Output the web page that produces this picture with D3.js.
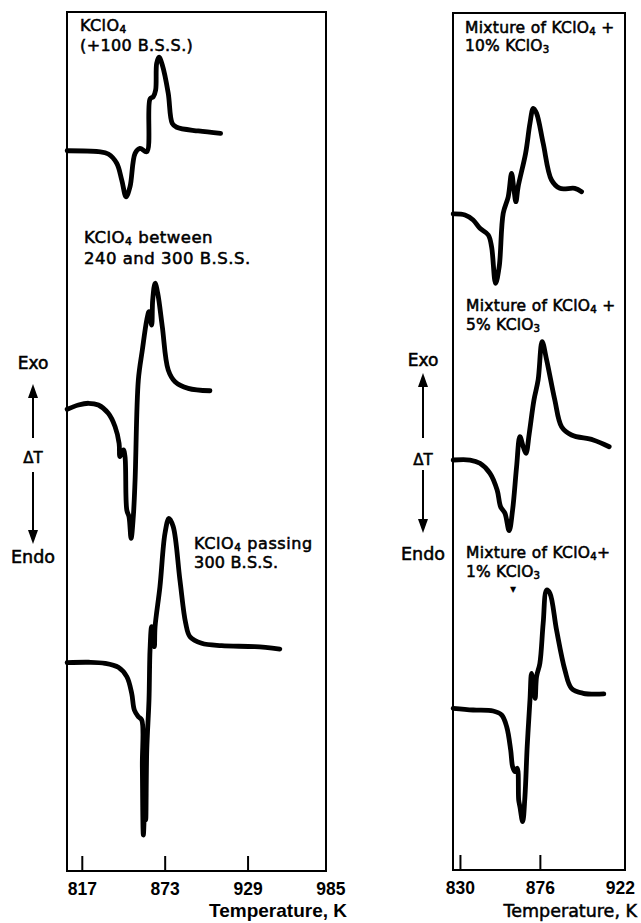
<!DOCTYPE html>
<html>
<head>
<meta charset="utf-8">
<script src="https://cdn.jsdelivr.net/npm/d3@7"></script>
<style>
  html, body { margin: 0; padding: 0; background: #fff; }
  svg { display: block; }
  text { fill: #000; }
</style>
</head>
<body>
<svg id="chart" width="641" height="923"></svg>
<script>
// ---------------- DATA ----------------
// Left panel: KClO4 of different particle sizes. Temperature (K) vs ΔT (arbitrary, stacked offsets)
const leftTicks = [817, 873, 929, 985];
const rightTicks = [830, 876, 922];

const a100T  = [807.1, 828.2, 834.9, 840.6, 844.0, 846.9, 849.6, 853.0, 856.3, 860.9, 863.1, 865.3, 866.9, 867.6, 869.2, 871.4, 875.4, 878.1, 881.1, 895.7, 910.8];
const a100DT = [83.85, 83.74, 83.47, 82.39, 80.44, 78.49, 79.66, 83.55, 84.13, 83.74, 89.87, 90.14, 90.92, 94.03, 94.73, 93.83, 90.54, 87.04, 86.58, 86.15, 85.88];

const b240T  = [807.1, 814.7, 821.5, 828.2, 834.9, 839.5, 842.2, 842.8, 845.1, 846.2, 847.4, 848.9, 850.3, 851.8, 853.0, 855.2, 857.9, 860.9, 862.4, 864.2, 864.9, 866.5, 868.3, 871.4, 875.4, 880.0, 888.9, 903.6];
const b240DT = [53.75, 54.25, 54.45, 54.25, 53.28, 51.72, 49.79, 48.23, 49.01, 48.23, 42.03, 41.25, 38.73, 41.25, 45.52, 57.16, 60.65, 64.14, 65.11, 63.56, 66.47, 68.42, 67.25, 63.36, 58.32, 56.96, 56.19, 55.91];

const c300T  = [807.1, 821.5, 832.7, 841.7, 847.4, 850.7, 852.5, 855.2, 857.5, 857.9, 858.6, 859.7, 860.2, 860.9, 862.4, 863.1, 864.2, 866.0, 866.5, 869.8, 873.2, 875.9, 878.8, 883.3, 887.2, 890.1, 898.0, 911.5, 933.9, 950.8];
const c300DT = [24.25, 24.30, 24.18, 23.71, 22.62, 20.69, 18.74, 17.96, 17.58, 12.14, 4.19, 8.27, 5.94, 14.09, 19.91, 25.73, 28.44, 26.11, 28.44, 33.10, 39.31, 41.06, 40.08, 33.88, 28.84, 27.28, 26.51, 26.23, 26.11, 25.84];

// Right panel: mixtures of KClO4 + KClO3
const m10T  = [826.1, 832.9, 837.6, 841.5, 846.3, 848.2, 850.5, 852.6, 854.9, 857.8, 859.7, 861.1, 862.2, 863.5, 867.8, 870.3, 872.2, 874.1, 877.9, 882.7, 887.5, 896.1, 900.0];
const m10DT = [76.55, 76.43, 75.85, 74.88, 74.10, 72.73, 68.46, 70.40, 76.63, 78.57, 81.29, 79.35, 77.98, 79.73, 83.63, 87.13, 88.88, 88.30, 84.80, 80.51, 79.54, 79.54, 79.15];

const m5T  = [826.1, 835.8, 841.5, 847.3, 851.4, 853.4, 855.9, 858.3, 860.3, 862.6, 864.5, 866.4, 868.0, 869.9, 872.6, 875.0, 877.3, 879.9, 884.6, 888.5, 894.2, 906.7, 915.9];
const m5DT = [47.84, 47.84, 47.46, 46.29, 44.34, 42.39, 41.62, 39.59, 42.01, 47.06, 50.56, 49.39, 48.62, 50.96, 54.84, 57.18, 61.65, 59.51, 54.84, 51.73, 50.76, 50.18, 49.39];

const m1T  = [826.1, 837.6, 849.1, 854.0, 856.9, 859.2, 860.3, 861.6, 863.0, 863.8, 864.5, 866.1, 867.4, 868.7, 870.3, 871.2, 872.6, 873.3, 874.1, 876.0, 877.9, 879.9, 881.8, 885.6, 890.4, 894.2, 900.9, 912.8];
const m1DT = [18.87, 18.67, 18.55, 18.09, 16.72, 14.00, 12.05, 11.47, 11.87, 8.17, 7.39, 5.64, 8.55, 14.39, 19.84, 22.95, 21.00, 20.04, 22.56, 24.12, 28.79, 32.67, 32.29, 28.00, 23.34, 21.20, 20.62, 20.54];

// ---------------- DRAW ----------------
const svg = d3.select("#chart");

const FONT = "'DejaVu Sans', Verdana, sans-serif";
const NUMFONT = "'Liberation Sans', Arial, sans-serif";

function panel(cfg) {
  const x = d3.scaleLinear().domain(cfg.xDomain).range([cfg.left, cfg.right]);
  const y = d3.scaleLinear().domain([0, 100]).range([cfg.bottom, cfg.top]);
  const g = svg.append("g");

  // frame
  g.append("rect")
    .attr("x", cfg.left).attr("y", cfg.top)
    .attr("width", cfg.right - cfg.left).attr("height", cfg.bottom - cfg.top)
    .attr("fill", "none").attr("stroke", "#000").attr("stroke-width", 2);

  // bottom axis: inward ticks, labels below
  const axis = d3.axisBottom(x).tickValues(cfg.ticks).tickSize(0).tickFormat(d3.format("d"));
  const ag = g.append("g").attr("transform", `translate(0,${cfg.bottom})`).call(axis);
  ag.select(".domain").remove();
  ag.selectAll(".tick text")
    .attr("y", 0).attr("dy", 24)
    .attr("font-family", NUMFONT).attr("font-size", 17.5).attr("font-weight", "bold")
    .attr("fill", "#000");
  ag.selectAll(".tick").filter(d => cfg.tickMarks.includes(d))
    .append("line").attr("y1", 0).attr("y2", -15)
    .attr("stroke", "#000").attr("stroke-width", 2);

  // axis title
  g.append("text").attr("x", cfg.titleX).attr("y", 917)
    .attr("text-anchor", "end")
    .attr("font-family", cfg.titleFont).attr("font-size", cfg.titleSize)
    .attr("font-weight", cfg.titleWeight)
    .attr("stroke", "#000").attr("stroke-width", cfg.titleStroke)
    .text("Temperature, K");

  // curves
  const line = d3.line()
    .x(d => x(d[0])).y(d => y(d[1]))
    .curve(d3.curveCatmullRom.alpha(0.5));
  cfg.series.forEach(s => {
    g.append("path")
      .datum(d3.zip(s.t, s.v))
      .attr("d", line)
      .attr("fill", "none").attr("stroke", "#000")
      .attr("stroke-width", 4.8)
      .attr("stroke-linejoin", "round").attr("stroke-linecap", "round");
  });
  return {x, y, g};
}

panel({
  xDomain: [807, 982], left: 67, right: 326, top: 12, bottom: 871,
  ticks: leftTicks, tickMarks: [817, 873, 929],
  titleX: 347, titleFont: NUMFONT, titleSize: 19, titleWeight: "bold", titleStroke: 0,
  series: [{t: a100T, v: a100DT}, {t: b240T, v: b240DT}, {t: c300T, v: c300DT}]
});

panel({
  xDomain: [826, 925], left: 453, right: 625, top: 13, bottom: 870,
  ticks: rightTicks, tickMarks: [830, 876],
  titleX: 637, titleFont: FONT, titleSize: 17.5, titleWeight: "normal", titleStroke: 0.5,
  series: [{t: m10T, v: m10DT}, {t: m5T, v: m5DT}, {t: m1T, v: m1DT}]
});

// Labels with subscripts: parts = [[text, isSub], ...]
function label(x, y, size, parts, spacing) {
  const t = svg.append("text").attr("x", x).attr("y", y)
    .attr("font-family", FONT).attr("font-size", size)
    .attr("letter-spacing", spacing || 0)
    .attr("stroke", "#000").attr("stroke-width", 0.55);
  let prevSub = false;
  parts.forEach(([s, sub]) => {
    const sp = t.append("tspan").text(s);
    if (sub) sp.attr("font-size", size * 0.66).attr("dy", size * 0.14);
    else if (prevSub) sp.attr("dy", -size * 0.14);
    prevSub = sub;
  });
  return t;
}

// Left panel labels
label(80, 31, 16, [["KClO", false], ["4", true]], 0.4);
label(80, 51, 16, [["(+100 B.S.S.)", false]], 0.4);
label(84, 243, 16.5, [["KClO", false], ["4", true], ["  between", false]], 0.5);
label(84, 264, 16.5, [["240 and 300 B.S.S.", false]], 0.5);
label(194, 549, 16, [["KClO", false], ["4", true], [" passing", false]], 0.6);
label(194, 568, 16, [["300 B.S.S.", false]], 0.2);

// Right panel labels
label(465, 33, 15.5, [["Mixture of KClO", false], ["4", true], [" +", false]], 0.3);
label(465, 51, 15.5, [["10% KClO", false], ["3", true]], 0.2);
label(466, 311, 15.5, [["Mixture of KClO", false], ["4", true], [" +", false]], 0.3);
label(466, 330, 15.5, [["5% KClO", false], ["3", true]], 0.2);
label(466, 558, 15.5, [["Mixture of KClO", false], ["4", true], ["+", false]], 0.3);
label(466, 577, 15.5, [["1% KClO", false], ["3", true]], 0.2);
svg.append("text").attr("x", 513).attr("y", 592).attr("text-anchor", "middle")
  .attr("font-family", FONT).attr("font-size", 8).text("▼");

// Exo / ΔT / Endo indicators
function indicator(cx, exoY, upTip, upEnd, dtY, dnStart, dnTip, endoY) {
  const g = svg.append("g");
  const txt = (y, s, size) => g.append("text").attr("x", cx).attr("y", y)
    .attr("text-anchor", "middle").attr("font-family", FONT).attr("font-size", size)
    .attr("stroke", "#000").attr("stroke-width", 0.55).text(s);
  txt(exoY, "Exo", 17);
  txt(dtY, "ΔT", 15);
  txt(endoY, "Endo", 17.5);
  g.append("line").attr("x1", cx).attr("x2", cx).attr("y1", upTip + 10).attr("y2", upEnd)
    .attr("stroke", "#000").attr("stroke-width", 2);
  g.append("line").attr("x1", cx).attr("x2", cx).attr("y1", dnStart).attr("y2", dnTip - 10)
    .attr("stroke", "#000").attr("stroke-width", 2);
  g.append("path").attr("d", `M${cx},${upTip} L${cx - 5},${upTip + 14} L${cx + 5},${upTip + 14} Z`).attr("fill", "#000");
  g.append("path").attr("d", `M${cx},${dnTip} L${cx - 5},${dnTip - 14} L${cx + 5},${dnTip - 14} Z`).attr("fill", "#000");
}
indicator(33, 369, 384, 438, 463, 472, 544, 563);
indicator(423, 366, 373, 438, 465, 470, 533, 560);
</script>
</body>
</html>
